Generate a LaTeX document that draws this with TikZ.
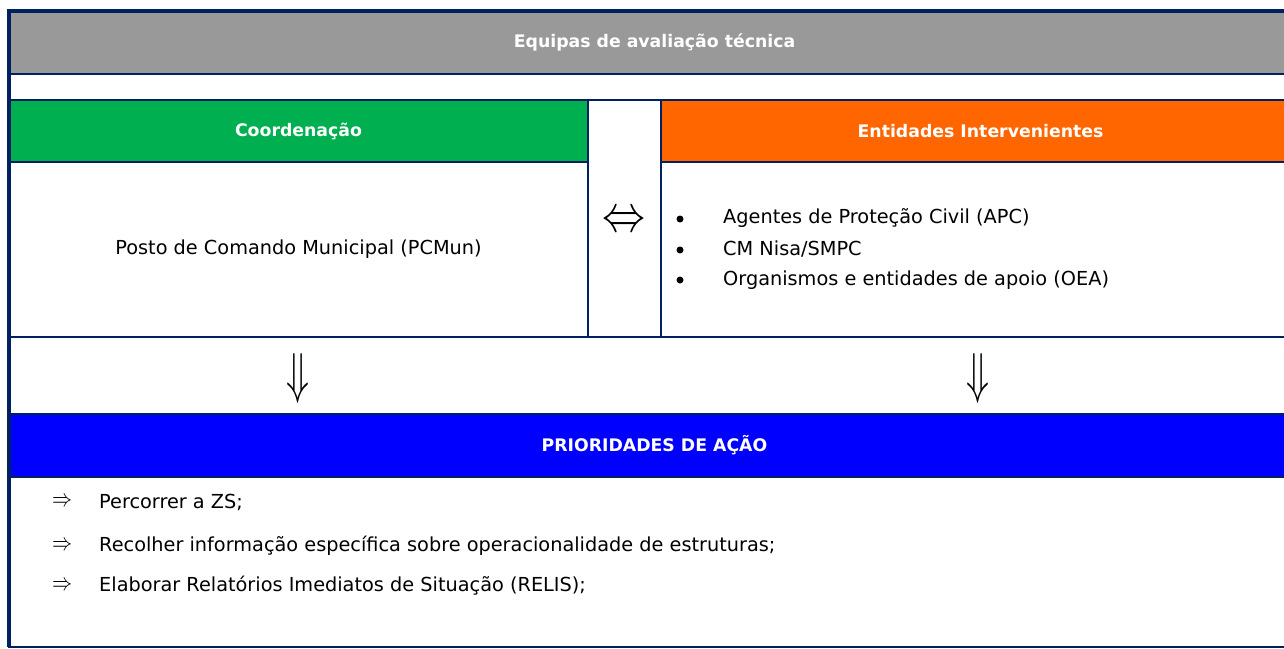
\documentclass[tikz,border=0pt]{standalone}
\usepackage{fontspec}
\setmainfont{DejaVu Sans}
\usepackage{graphicx}
\definecolor{navy}{HTML}{002060}
\definecolor{headgray}{HTML}{999999}
\definecolor{coordgreen}{HTML}{00B050}
\definecolor{entorange}{HTML}{FF6600}
\definecolor{prioblue}{HTML}{0000FF}

\begin{document}
\begin{tikzpicture}[x=1pt, y=-1pt,
      cell/.style={draw=navy, line width=2pt, anchor=north west, inner sep=0pt, outer sep=0pt},
      head/.style={cell, text=white, font=\fontsize{17.3}{20}\selectfont\bfseries},
      txt/.style={inner sep=0pt, font=\fontsize{19.3}{23}\selectfont},
      dot/.style={circle, fill=black, inner sep=0pt, minimum size=7pt},
      sym/.style={inner sep=0pt}]
    \useasboundingbox (0,0) rectangle (1284,648);
    \clip (0,0) rectangle (1284,648);
    % table cells
    \node[head, fill=headgray, minimum width=1291pt, minimum height=63pt] (titulo) at (9,11) {Equipas de avaliação técnica};
    \node[cell, minimum width=1291pt, minimum height=26pt] (vazio) at (9,74) {};
    \node[head, fill=coordgreen, minimum width=579pt, minimum height=62pt] (coord) at (9,100) {Coordenação};
    \node[cell, minimum width=73pt, minimum height=237pt] (meio) at (588,100) {};
    \node[head, fill=entorange, minimum width=639pt, minimum height=62pt] (entid) at (661,100) {Entidades Intervenientes};
    \node[cell, txt, minimum width=579pt, minimum height=175pt] (posto) at (9,162) {Posto de Comando Municipal (PCMun)};
    \node[cell, minimum width=639pt, minimum height=175pt] (lista) at (661,162) {};
    \node[cell, minimum width=1291pt, minimum height=77pt] (setas) at (9,337) {};
    \node[head, fill=prioblue, minimum width=1291pt, minimum height=63pt] (prior) at (9,414) {PRIORIDADES DE AÇÃO};
    \node[cell, minimum width=1291pt, minimum height=170pt] (acoes) at (9,477) {};
    \draw[navy, line width=4pt] (titulo.north east) -- (titulo.north west) -- (acoes.south west);
    % symbols
    \node[sym] (duplo) at (624,222) {\resizebox{43pt}{19pt}{$\Leftrightarrow$}};
    \node[sym] (descE) at (298,378) {\resizebox{23pt}{39pt}{$\Downarrow$}};
    \node[sym] (descD) at (978,378) {\resizebox{23pt}{39pt}{$\Downarrow$}};
    % entidades
    \node[dot] (b1) at (680,219) {};
    \node[dot] (b2) at (680,250) {};
    \node[dot] (b3) at (680,280) {};
    \node[txt, anchor=west] (apc) at (723,218) {Agentes de Proteção Civil (APC)};
    \node[txt, anchor=west] (cmn) at (723,249) {CM Nisa/SMPC};
    \node[txt, anchor=west] (oea) at (723,280) {Organismos e entidades de apoio (OEA)};
    % prioridades
    \node[sym] (s1) at (62,502) {\resizebox{20pt}{9pt}{$\Rightarrow$}};
    \node[sym] (s2) at (62,546) {\resizebox{20pt}{9pt}{$\Rightarrow$}};
    \node[sym] (s3) at (62,586) {\resizebox{20pt}{9pt}{$\Rightarrow$}};
    \node[txt, anchor=west] (zs) at (99,502) {Percorrer a ZS;};
    \node[txt, anchor=west] (info) at (99,546) {Recolher informação específica sobre operacionalidade de estruturas;};
    \node[txt, anchor=west] (relis) at (99,586) {Elaborar Relatórios Imediatos de Situação (RELIS);};
  \end{tikzpicture}
\end{document}
